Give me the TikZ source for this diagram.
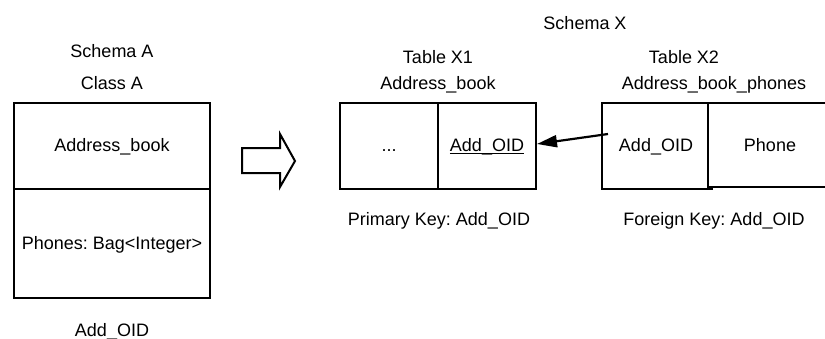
\documentclass[tikz,border=0pt]{standalone}
\usepackage{fontspec}
\setmainfont{Liberation Sans}
\usetikzlibrary{arrows.meta}
\frenchspacing
\begin{document}
\begin{tikzpicture}[x=1pt,y=-1pt,
  lbl/.style={anchor=base,inner sep=0pt,font=\fontsize{18}{20}\selectfont},
  frame/.style={line width=2.4pt,line join=miter},
  fk/.style={line width=2.2pt,-{Triangle[length=20pt,width=12pt]}}]
\useasboundingbox (0,0) rectangle (825,338);

% Schema A: the class
\node[lbl] (schA) at (112,57) {Schema A};
\node[lbl] (clsA) at (112,89) {Class A};
\draw[frame] (14,103) rectangle (210,298);
\draw[frame] (14,189) -- (210,189);
\node[lbl] (abook) at (112,151) {Address\_book};
\node[lbl] (phones) at (112,249) {Phones: Bag<Integer>};
\node[lbl] (oid) at (112,336.5) {Add\_OID};

% hollow transformation arrow
\draw[line width=2pt,line join=miter] (242,148) -- (280,148) -- (280,134) -- (295,161)
  -- (280,187) -- (280,173) -- (242,173) -- cycle;

% Schema X: the tables
\node[lbl] (schX) at (585,29) {Schema X};
\node[lbl] (tx1) at (438,63) {Table X1};
\node[lbl] (tx1n) at (438,89) {Address\_book};
\node[lbl] (tx2) at (684,63) {Table X2};
\node[lbl] (tx2n) at (714,89) {Address\_book\_phones};

% Table X1
\draw[frame] (340,103) rectangle (536,189);
\draw[frame] (438,103) -- (438,189);
\node[lbl] (dots) at (389,151) {...};
\node[lbl] (pk) at (487,151) {Add\_OID};
\draw[line width=1.3pt] ([yshift=-2.4pt]pk.base west) -- ([yshift=-2.4pt]pk.base east);
\node[lbl] (pklbl) at (439,225) {Primary Key: Add\_OID};

% Table X2
\draw[frame] (830,103) -- (602,103) -- (602,189) -- (713,189);
\draw[frame] (708,103) -- (708,189);
\draw[frame] (708,187) -- (830,187);
\node[lbl] (fk) at (656,151) {Add\_OID};
\node[lbl] (ph) at (770,151) {Phone};
\node[lbl] (fklbl) at (714,225) {Foreign Key: Add\_OID};

% foreign key reference
\coordinate (fkstart) at (608,134);
\coordinate (pkend) at (537,144);
\draw[fk] (fkstart) -- (pkend);
\end{tikzpicture}
\end{document}
